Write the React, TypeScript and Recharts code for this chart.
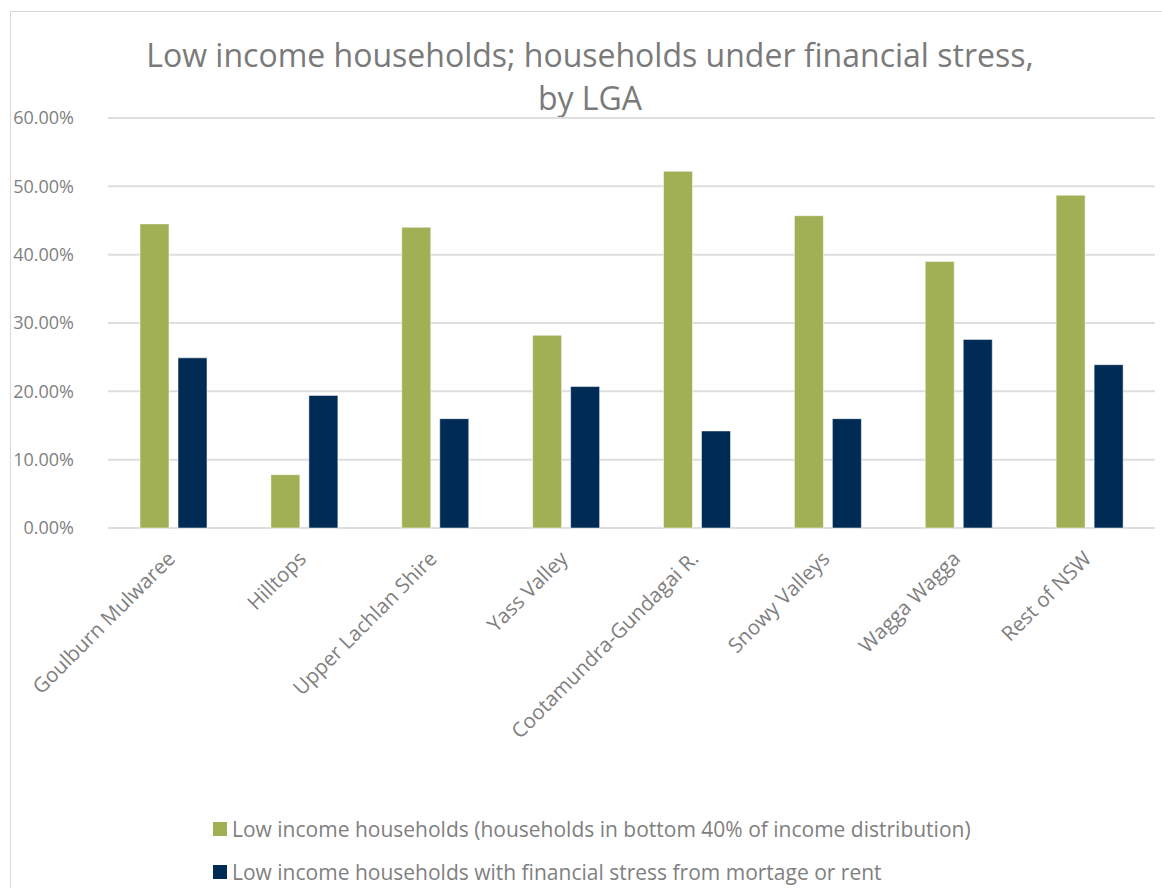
import { BarChart, Bar, XAxis, YAxis, CartesianGrid, Legend } from 'recharts';

const categories = [
  'Goulburn Mulwaree',
  'Hilltops',
  'Upper Lachlan Shire',
  'Yass Valley',
  'Cootamundra-Gundagai R.',
  'Snowy Valleys',
  'Wagga Wagga',
  'Rest of NSW',
];

// percent of households
const lowIncome = [44.5, 7.8, 44.0, 28.2, 52.2, 45.7, 39.0, 48.7];
const financialStress = [24.9, 19.4, 16.0, 20.7, 14.2, 16.0, 27.6, 23.9];

const yTicks = [0, 10, 20, 30, 40, 50, 60];

const seriesNames = [
  'Low income households (households in bottom 40% of income distribution)',
  'Low income households with financial stress from mortage or rent',
];

const GREEN = '#a1b055';
const NAVY = '#002b55';
const TEXT = '#7f7f7f';
const FONT = '"Open Sans", sans-serif';

const data = categories.map((name, i) => ({
  name,
  low: lowIncome[i],
  stress: financialStress[i],
}));

function AngledTick({ x, y, payload }: any) {
  return (
    <g transform={`translate(${x + 3},${y + 32})`}>
      <text
        x={0}
        y={0}
        textAnchor="end"
        transform="rotate(-45)"
        fill={TEXT}
        fontSize={20.5}
        fontFamily={FONT}
      >
        {payload.value}
      </text>
    </g>
  );
}

function LegendBox() {
  const colors = [GREEN, NAVY];
  return (
    <div style={{ position: 'relative', width: 900, height: 70 }}>
      {seriesNames.map((label, i) => (
        <div
          key={label}
          style={{
            position: 'absolute',
            left: 0,
            top: i * 43,
            height: 24,
            display: 'flex',
            alignItems: 'center',
            whiteSpace: 'nowrap',
          }}
        >
          <span style={{ width: 14, height: 14, background: colors[i], display: 'inline-block', marginRight: 5 }} />
          <span style={{ fontSize: 21, color: TEXT, fontFamily: FONT }}>{label}</span>
        </div>
      ))}
    </div>
  );
}

export default function App() {
  return (
    <div
      style={{
        position: 'absolute',
        left: 0,
        top: 0,
        width: 1162,
        height: 888,
        overflow: 'hidden',
        background: '#fff',
        fontFamily: FONT,
      }}
    >
      <div
        style={{
          position: 'absolute',
          left: 10,
          top: 11,
          width: 1200,
          height: 900,
          border: '1px solid #d9d9d9',
        }}
      >
        <div
          style={{
            position: 'absolute',
            left: 0,
            top: 21,
            width: 1158,
            textAlign: 'center',
            fontSize: 32,
            lineHeight: '43px',
            color: '#7a7a7a',
          }}
        >
          Low income households; households under financial stress,
          <br />
          by LGA
        </div>
        <BarChart
          width={1150}
          height={876}
          data={data}
          margin={{ top: 106, right: 6, left: 0, bottom: 0 }}
          barSize={29}
          barGap={9}
        >
          <CartesianGrid vertical={false} stroke="#dedede" strokeWidth={2} />
          <XAxis
            dataKey="name"
            height={360}
            axisLine={false}
            tickLine={false}
            tickSize={0}
            tickMargin={0}
            interval={0}
            tick={<AngledTick />}
          />
          <YAxis
            width={97}
            domain={[0, 60]}
            ticks={yTicks}
            axisLine={false}
            tickLine={false}
            tickSize={6}
            tickMargin={28}
            tick={{ fill: TEXT, fontSize: 18, fontFamily: FONT }}
            tickFormatter={(v: number) => `${v.toFixed(2)}%`}
          />
          <Legend
            layout="horizontal"
            verticalAlign="middle"
            align="center"
            wrapperStyle={{ top: 805, left: 202, width: 900 }}
            content={<LegendBox />}
          />
          <Bar dataKey="low" name={seriesNames[0]} fill={GREEN} stroke="#ffffff" strokeOpacity={0.5} isAnimationActive={false} />
          <Bar dataKey="stress" name={seriesNames[1]} fill={NAVY} stroke="#ffffff" strokeOpacity={0.5} isAnimationActive={false} />
        </BarChart>
      </div>
    </div>
  );
}
